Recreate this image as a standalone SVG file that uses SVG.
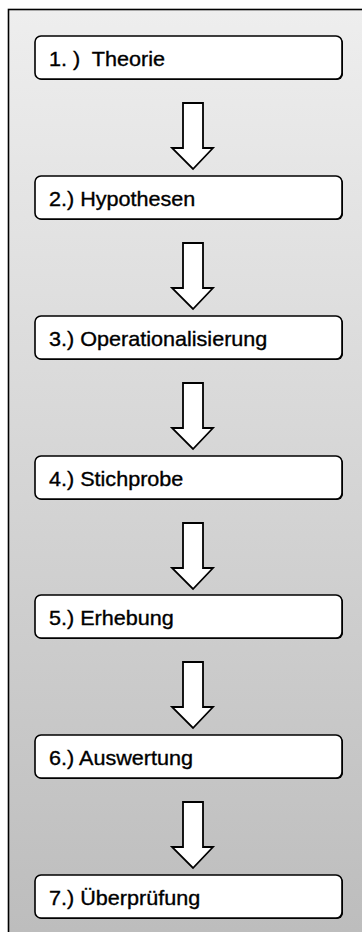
<svg xmlns="http://www.w3.org/2000/svg" width="362" height="932" viewBox="0 0 362 932">
  <defs>
    <linearGradient id="panelFill" x1="0" y1="0" x2="0" y2="1">
      <stop offset="0" stop-color="#eeeeee"/>
      <stop offset="1" stop-color="#bcbcbc"/>
    </linearGradient>
    <!-- hollow block arrow pointing down -->
    <path id="downArrow" d="M183,0 H203 V45 H213 L193,66 L172,45 H183 Z"/>
  </defs>
  <style>
    .step rect.shadow { fill: #000; }
    .step rect.box { fill: #fff; stroke: #000; stroke-width: 1.6; }
    .step text { font-family: "Liberation Sans", Arial, sans-serif; font-size: 20px; fill: #000; stroke: #000; stroke-width: 0.35; }
    .arrow { fill: #fff; stroke: #000; stroke-width: 1.8; stroke-linejoin: miter; }
  </style>

  <!-- background panel (runs off the right and bottom edges) -->
  <rect x="8.5" y="9.5" width="370" height="940" fill="url(#panelFill)" stroke="#000" stroke-width="1.6"/>

  <!-- connectors -->
  <g id="connectors">
    <use href="#downArrow" class="arrow" transform="translate(0,103)"/>
    <use href="#downArrow" class="arrow" transform="translate(0,243)"/>
    <use href="#downArrow" class="arrow" transform="translate(0,383)"/>
    <use href="#downArrow" class="arrow" transform="translate(0,523)"/>
    <use href="#downArrow" class="arrow" transform="translate(0,662)"/>
    <use href="#downArrow" class="arrow" transform="translate(0,802)"/>
  </g>

  <g id="step1" class="step" transform="translate(0,36)">
    <rect class="shadow" x="36" y="1" width="307" height="43" rx="6"/>
    <rect class="box" x="35" y="0" width="307" height="43" rx="6"/>
    <text transform="translate(49,30) scale(1.08,1)" xml:space="preserve">1. )  Theorie</text>
  </g>
  <g id="step2" class="step" transform="translate(0,176)">
    <rect class="shadow" x="36" y="1" width="307" height="43" rx="6"/>
    <rect class="box" x="35" y="0" width="307" height="43" rx="6"/>
    <text transform="translate(49,30) scale(1.08,1)">2.) Hypothesen</text>
  </g>
  <g id="step3" class="step" transform="translate(0,316)">
    <rect class="shadow" x="36" y="1" width="307" height="43" rx="6"/>
    <rect class="box" x="35" y="0" width="307" height="43" rx="6"/>
    <text transform="translate(49,30) scale(1.08,1)">3.) Operationalisierung</text>
  </g>
  <g id="step4" class="step" transform="translate(0,456)">
    <rect class="shadow" x="36" y="1" width="307" height="43" rx="6"/>
    <rect class="box" x="35" y="0" width="307" height="43" rx="6"/>
    <text transform="translate(49,30) scale(1.08,1)">4.) Stichprobe</text>
  </g>
  <g id="step5" class="step" transform="translate(0,595)">
    <rect class="shadow" x="36" y="1" width="307" height="43" rx="6"/>
    <rect class="box" x="35" y="0" width="307" height="43" rx="6"/>
    <text transform="translate(49,30) scale(1.08,1)">5.) Erhebung</text>
  </g>
  <g id="step6" class="step" transform="translate(0,735)">
    <rect class="shadow" x="36" y="1" width="307" height="43" rx="6"/>
    <rect class="box" x="35" y="0" width="307" height="43" rx="6"/>
    <text transform="translate(49,30) scale(1.08,1)">6.) Auswertung</text>
  </g>
  <g id="step7" class="step" transform="translate(0,875)">
    <rect class="shadow" x="36" y="1" width="307" height="43" rx="6"/>
    <rect class="box" x="35" y="0" width="307" height="43" rx="6"/>
    <text transform="translate(49,30) scale(1.08,1)">7.) Überprüfung</text>
  </g>
</svg>
